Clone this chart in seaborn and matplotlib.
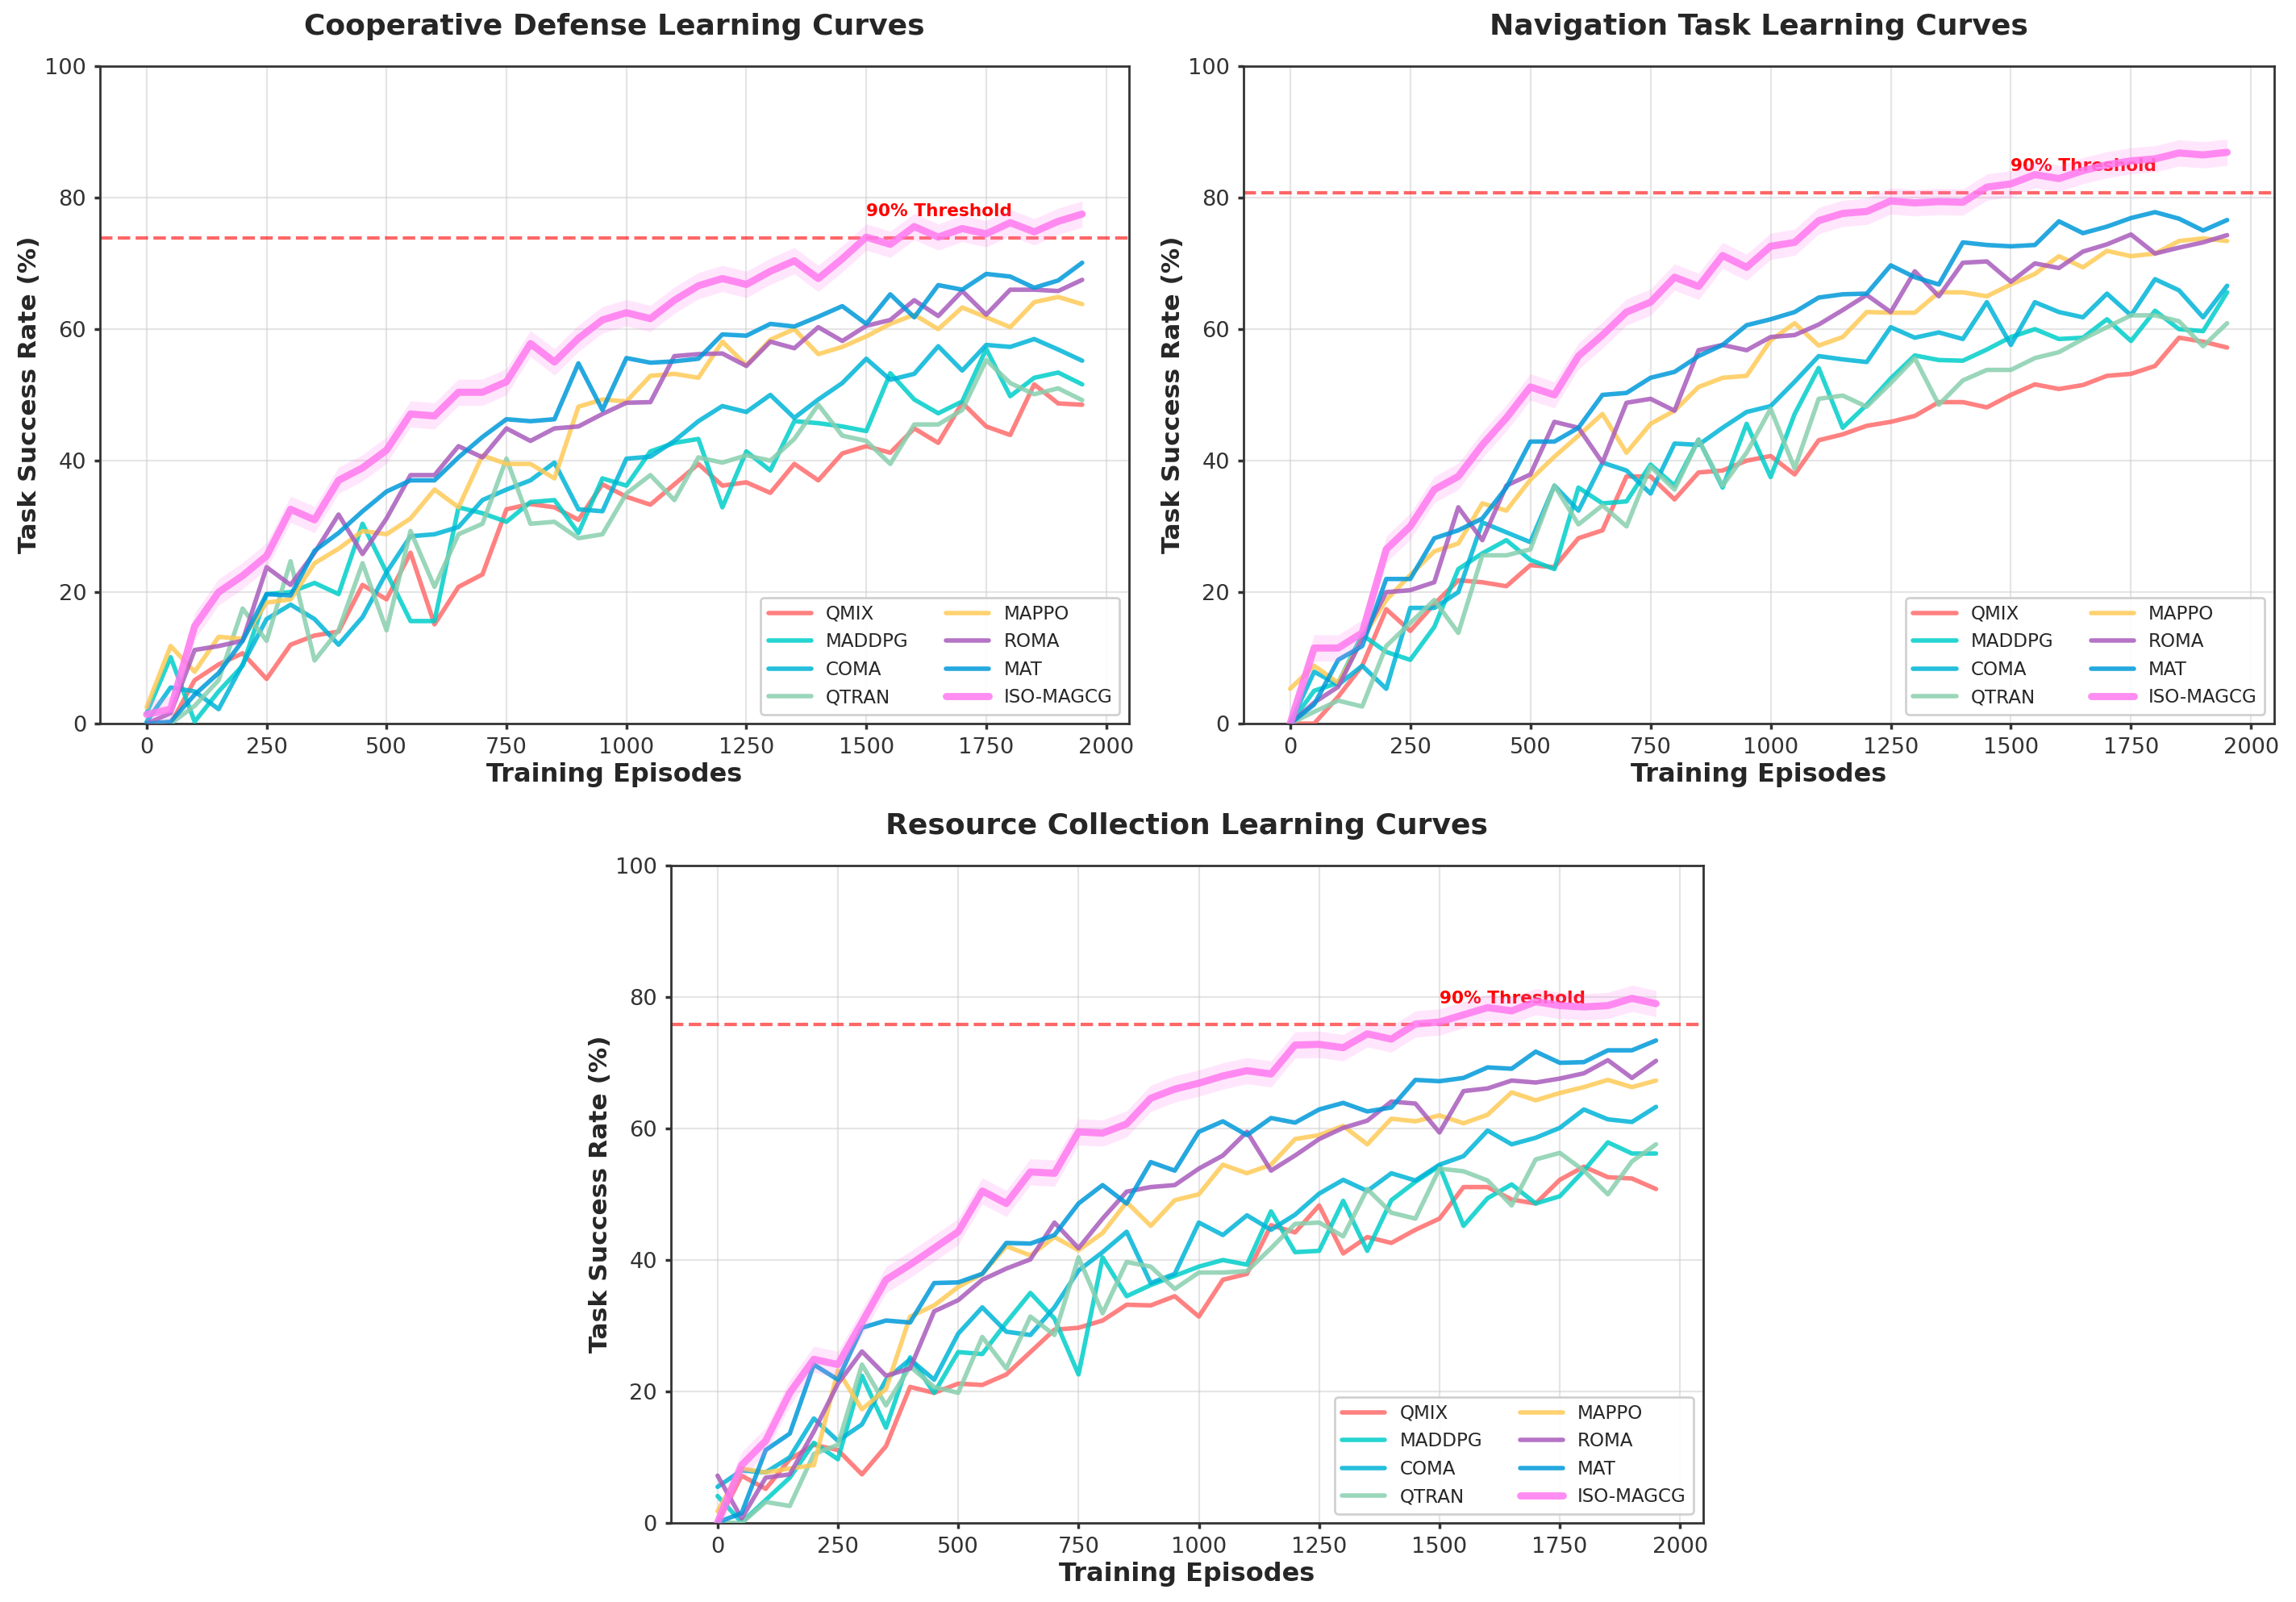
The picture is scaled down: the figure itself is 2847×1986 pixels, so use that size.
import numpy as np
import pandas as pd
import matplotlib
matplotlib.use('Agg')
import matplotlib.pyplot as plt
import seaborn as sns

# x axis: training episodes
episodes = list(range(0, 2000, 50))

methods = ['QMIX', 'MADDPG', 'COMA', 'QTRAN', 'MAPPO', 'ROMA', 'MAT', 'ISO-MAGCG']
colors = ['#FF6B6B', '#00CEC9', '#00B4D8', '#88CFAE', '#FECA57', '#A85CBC', '#0099DA', '#FF79F0']

# --- Cooperative Defense ---
defense_qmix = [0, 0, 6.6, 9, 10.7, 6.8, 12, 13.4, 14, 21.1, 18.9, 26, 15.1, 20.8, 22.7, 32.6, 33.4, 32.9, 31, 36.4, 34.5,
                33.3, 36.4, 39.5, 36.2, 36.7, 35.1, 39.5, 37, 41.1, 42.2, 41.2, 44.9, 42.7, 48.8, 45.2, 43.9, 51.6, 48.7, 48.5]
defense_maddpg = [1.6, 10.1, 0.3, 4.9, 8.8, 19.7, 20, 21.4, 19.7, 30.4, 23, 15.6, 15.6, 32.9, 32, 30.7, 33.7, 34, 29, 37.3, 36.2,
                  41.4, 42.7, 43.3, 32.9, 41.4, 38.5, 46, 45.7, 45.2, 44.5, 53.3, 49.3, 47.2, 49, 57, 49.8, 52.6, 53.4, 51.6]
defense_coma = [0.3, 5.5, 4.9, 2.2, 9, 15.9, 18.1, 15.9, 12, 16.2, 23, 28.5, 28.8, 29.9, 34, 35.6, 37, 39.7, 32.6, 32.3, 40.3,
                40.6, 43, 46, 48.3, 47.4, 50, 46.5, 49.3, 51.8, 55.5, 52.3, 53.2, 57.4, 53.7, 57.6, 57.3, 58.5, 56.9, 55.2]
defense_qtran = [0, 0, 2.7, 6.6, 17.5, 12.6, 24.7, 9.6, 14.2, 24.4, 14.2, 29.3, 20.8, 28.8, 30.4, 40.3, 30.4, 30.7, 28.2, 28.8, 35,
                 37.8, 34, 40.5, 39.7, 40.8, 40, 43.3, 48.5, 43.8, 43, 39.5, 45.5, 45.5, 47.7, 55.3, 51.8, 50.1, 51, 49.2]
defense_mappo = [2.5, 11.8, 7.9, 13.2, 12.9, 18.4, 18.9, 24.4, 26.6, 29.3, 28.8, 31.2, 35.6, 32.9, 40.8, 39.5, 39.5, 37.3, 48.2, 49.3, 49,
                 52.9, 53.2, 52.6, 58.1, 54.5, 58.4, 60, 56.2, 57.3, 58.9, 60.8, 62.2, 60, 63.3, 61.8, 60.3, 64.1, 64.9, 63.8]
defense_roma = [0, 1.6, 11.2, 11.8, 12.6, 23.8, 21.1, 26, 31.8, 25.8, 31.2, 37.8, 37.8, 42.2, 40.5, 44.9, 43, 44.9, 45.2, 47.1, 48.8,
                48.9, 55.9, 56.2, 56.3, 54.4, 58.1, 57.1, 60.3, 58.2, 60.5, 61.4, 64.4, 62, 65.8, 62.2, 66, 66, 65.8, 67.5]
defense_mat = [0, 0.3, 4.4, 7.7, 12.6, 19.7, 19.5, 26.3, 29, 32.3, 35.3, 37, 37, 40.5, 43.6, 46.3, 46, 46.3, 54.8, 47.7, 55.6,
               54.9, 55.1, 55.5, 59.2, 59, 60.8, 60.4, 61.9, 63.5, 60.8, 65.3, 61.8, 66.7, 66, 68.4, 68, 66.3, 67.4, 70.1]
defense_iso = [1.4, 2.2, 14.8, 20, 22.5, 25.5, 32.6, 31, 37, 38.9, 41.6, 47.1, 46.8, 50.4, 50.4, 52, 57.8, 55, 58.6, 61.4, 62.5,
               61.6, 64.4, 66.6, 67.7, 66.8, 68.8, 70.4, 67.7, 70.7, 74, 72.9, 75.6, 74, 75.3, 74.5, 76.2, 74.8, 76.4, 77.5]

# --- Navigation Task ---
nav_qmix = [0, 0, 4.1, 8.8, 17.4, 14.1, 18.2, 21.8, 21.5, 20.9, 24.1, 23.8, 28.2, 29.4, 37.6, 37.6, 34.1, 38.2, 38.5, 40, 40.7,
            37.9, 43.1, 44, 45.3, 45.9, 46.8, 48.9, 48.9, 48.1, 50, 51.6, 50.9, 51.5, 52.9, 53.2, 54.4, 58.7, 58.1, 57.2]
nav_maddpg = [0, 5, 6.2, 13.5, 10.9, 9.7, 14.7, 23.5, 25.9, 27.9, 24.9, 23.5, 35.9, 33.5, 33.8, 39.4, 36.2, 43.2, 35.9, 45.6, 37.5,
              47.1, 54.1, 45, 48.5, 52.5, 56, 55.3, 55.2, 56.9, 58.8, 60, 58.5, 58.7, 61.5, 58.2, 62.8, 60, 59.7, 65.6]
nav_coma = [0, 7.9, 5.9, 8.8, 5.3, 17.6, 17.6, 20, 30.6, 29.1, 27.6, 36.2, 32.4, 39.7, 38.5, 35, 42.6, 42.4, 45, 47.4, 48.3,
            52, 55.9, 55.4, 55, 60.3, 58.7, 59.5, 58.5, 64.1, 57.6, 64.1, 62.6, 61.8, 65.4, 62.1, 67.6, 65.9, 61.8, 66.6]
nav_qtran = [0, 1.8, 3.5, 2.6, 11.8, 15.3, 18.8, 13.8, 25.6, 25.6, 26.5, 36.2, 30.3, 33.2, 30, 39.1, 35.6, 43.2, 36.2, 41.2, 47.9,
             38.8, 49.4, 49.9, 48.2, 51.8, 55.6, 48.5, 52.2, 53.8, 53.8, 55.6, 56.5, 58.5, 60.3, 62.1, 62.1, 61.2, 57.4, 60.9]
nav_mappo = [5.3, 8.8, 6.2, 12.9, 18.8, 22.6, 26.2, 27.4, 33.5, 32.4, 37.1, 40.6, 43.8, 47.1, 41.2, 45.6, 47.6, 51.2, 52.6, 52.9, 58.3,
             60.9, 57.5, 58.8, 62.6, 62.5, 62.5, 65.6, 65.6, 65, 66.8, 68.4, 71.1, 69.4, 71.9, 71.1, 71.5, 73.4, 73.8, 73.4]
nav_roma = [0, 3.2, 5.6, 12.9, 20, 20.3, 21.5, 32.9, 27.9, 36.2, 37.9, 45.9, 45, 39.7, 48.8, 49.4, 47.6, 56.8, 57.6, 56.8, 58.8,
            59.1, 60.7, 62.9, 65.2, 62.6, 68.8, 65, 70.1, 70.3, 67.2, 70, 69.3, 71.8, 72.9, 74.4, 71.5, 72.4, 73.2, 74.3]
nav_mat = [0, 2.9, 9.7, 11.8, 22, 22, 28.2, 29.4, 31.2, 35.9, 42.9, 42.9, 45, 50, 50.3, 52.6, 53.5, 55.9, 57.6, 60.6, 61.5,
           62.6, 64.8, 65.3, 65.4, 69.7, 67.9, 66.8, 73.2, 72.8, 72.6, 72.8, 76.4, 74.6, 75.6, 76.9, 77.8, 76.8, 75, 76.6]
nav_iso = [0, 11.5, 11.5, 13.8, 26.5, 30, 35.6, 37.6, 42.4, 46.5, 51.2, 50, 55.9, 59.1, 62.6, 64.1, 67.9, 66.5, 71.2, 69.4, 72.6,
           73.2, 76.5, 77.6, 77.9, 79.5, 79.2, 79.4, 79.3, 81.6, 82.1, 83.5, 82.9, 84.1, 85, 85.6, 85.9, 86.8, 86.5, 86.9]

# --- Resource Collection ---
res_qmix = [0.1, 7.2, 5.2, 9.7, 11.9, 11.1, 7.4, 11.7, 20.7, 19.8, 21.2, 21, 22.6, 26, 29.4, 29.7, 30.8, 33.2, 33.1, 34.5, 31.4,
            37, 37.9, 45.3, 44.2, 48.3, 41, 43.5, 42.6, 44.6, 46.3, 51.1, 51.1, 49.2, 48.6, 52.2, 54.2, 52.6, 52.4, 50.8]
res_maddpg = [4.1, 0.1, 3.5, 6.9, 12.2, 9.7, 22.4, 14.5, 25.2, 19.8, 26, 25.7, 30.5, 35, 31.1, 22.6, 40.4, 34.5, 36.2, 37.6, 39,
              40, 39.3, 47.4, 41.2, 41.4, 49, 41.4, 49.1, 51.9, 54.3, 45.2, 49.4, 51.5, 48.6, 49.7, 53.6, 57.9, 56.2, 56.2]
res_coma = [5.5, 8, 7.7, 10, 15.9, 12.5, 15, 21.8, 24.9, 21.8, 28.8, 32.8, 29.1, 28.6, 32.8, 38.4, 41.2, 44.3, 36.5, 37.9, 45.7,
            43.8, 46.8, 44.6, 46.9, 50.1, 52.2, 50.5, 53.2, 52.1, 54.5, 55.8, 59.7, 57.6, 58.6, 60.1, 62.9, 61.4, 61, 63.3]
res_qtran = [0.1, 0, 3.2, 2.6, 10.5, 11.9, 24.1, 17.9, 23.8, 20.7, 19.8, 28.3, 23.5, 31.4, 28.6, 40.4, 31.9, 39.7, 39, 35.6, 38.1,
             38.1, 38.3, 41.8, 45.5, 45.7, 43.6, 50.8, 47.2, 46.3, 53.9, 53.5, 52.1, 48.3, 55.3, 56.3, 53.6, 50, 55, 57.6]
res_mappo = [1.8, 8.3, 7.7, 8.3, 8.8, 23.2, 17.3, 20.4, 31.4, 33.1, 35.9, 37.9, 42.1, 40.7, 43.5, 41.5, 44.1, 48.8, 45.2, 49.1, 50,
             54.5, 53.2, 54.5, 58.4, 59, 60.4, 57.6, 61.5, 61.1, 62, 60.8, 62.1, 65.5, 64.3, 65.4, 66.3, 67.4, 66.3, 67.3]
res_roma = [7.2, 0.7, 6.9, 7.4, 13.9, 21.2, 26.1, 22.4, 23.5, 32.2, 33.9, 37, 38.7, 40.1, 45.7, 41.8, 46.3, 50.4, 51.1, 51.4, 53.9,
            55.9, 59.5, 53.6, 55.9, 58.4, 60.1, 61.2, 64.1, 63.8, 59.4, 65.7, 66.1, 67.3, 67, 67.6, 68.4, 70.4, 67.7, 70.3]
res_mat = [0.1, 1.5, 11.1, 13.6, 24.1, 21.8, 29.7, 30.8, 30.5, 36.5, 36.6, 37.9, 42.6, 42.5, 43.8, 48.6, 51.4, 48.6, 54.9, 53.6, 59.5,
           61.1, 59, 61.6, 60.9, 62.9, 63.9, 62.6, 63.2, 67.4, 67.2, 67.7, 69.3, 69.1, 71.7, 70, 70.1, 71.9, 71.9, 73.4]
res_iso = [0.1, 8.8, 12.5, 19.8, 24.9, 24.1, 30.5, 37, 39.3, 41.8, 44.3, 50.5, 48.6, 53.4, 53.2, 59.5, 59.3, 60.7, 64.6, 66, 66.9,
           68, 68.8, 68.3, 72.7, 72.8, 72.3, 74.4, 73.6, 75.9, 76.2, 77.3, 78.4, 77.9, 79.3, 78.7, 78.5, 78.7, 79.8, 79]

titles = ['Cooperative Defense Learning Curves', 'Navigation Task Learning Curves', 'Resource Collection Learning Curves']
thresholds = [73.9, 80.8, 75.8]

panels = [
    [defense_qmix, defense_maddpg, defense_coma, defense_qtran, defense_mappo, defense_roma, defense_mat, defense_iso],
    [nav_qmix, nav_maddpg, nav_coma, nav_qtran, nav_mappo, nav_roma, nav_mat, nav_iso],
    [res_qmix, res_maddpg, res_coma, res_qtran, res_mappo, res_roma, res_mat, res_iso],
]

sns.set_theme(style='whitegrid', rc={
    'axes.edgecolor': '#333333', 'axes.linewidth': 1.0,
    'xtick.bottom': True, 'ytick.left': True,
    'xtick.color': '#333333', 'ytick.color': '#333333',
    'xtick.major.size': 2.5, 'ytick.major.size': 2.5,
})
plt.rcParams['font.family'] = ['DejaVu Sans']

fig = plt.figure(figsize=(14.235, 9.93), dpi=200)
positions = [
    [0.0435, 0.5483, 0.4482, 0.4104],
    [0.5415, 0.5483, 0.4489, 0.4104],
    [0.2921, 0.0493, 0.4496, 0.4104],
]

for pos, title, thr, series in zip(positions, titles, thresholds, panels):
    ax = fig.add_axes(pos)
    for name, color, vals in zip(methods, colors, series):
        iso = name == 'ISO-MAGCG'
        if iso:
            v = np.array(vals)
            ax.fill_between(episodes, v - 2, v + 2, color=color, alpha=0.18, lw=0, zorder=4)
        sns.lineplot(x=episodes, y=vals, ax=ax, color=color, label=name,
                     linewidth=3.2 if iso else 2.0, alpha=0.85, zorder=5 if iso else 3)
    ax.axhline(thr, color='red', linestyle='--', linewidth=1.5, alpha=0.6, zorder=2)
    ax.text(1500, thr + 4, '90% Threshold', color='red', fontsize=7.8, fontweight='bold',
            ha='left', va='center')
    ax.set_ylim(0, 100)
    ax.grid(True, color='#cccccc', alpha=0.5, linewidth=0.8)
    ax.set_title(title, fontsize=13, fontweight='bold', pad=14)
    ax.set_xlabel('Training Episodes', fontsize=11.5, fontweight='bold', labelpad=2)
    ax.set_ylabel('Task Success Rate (%)', fontsize=11.3, fontweight='bold', labelpad=1.5)
    ax.tick_params(labelsize=9.8)
    for sp in ax.spines.values():
        sp.set_color('#333333')
    ax.legend(loc='lower right', ncol=2, fontsize=8.3, handlelength=2.3,
              framealpha=0.9, edgecolor='#cccccc')

fig.savefig('out.png', dpi=200)
